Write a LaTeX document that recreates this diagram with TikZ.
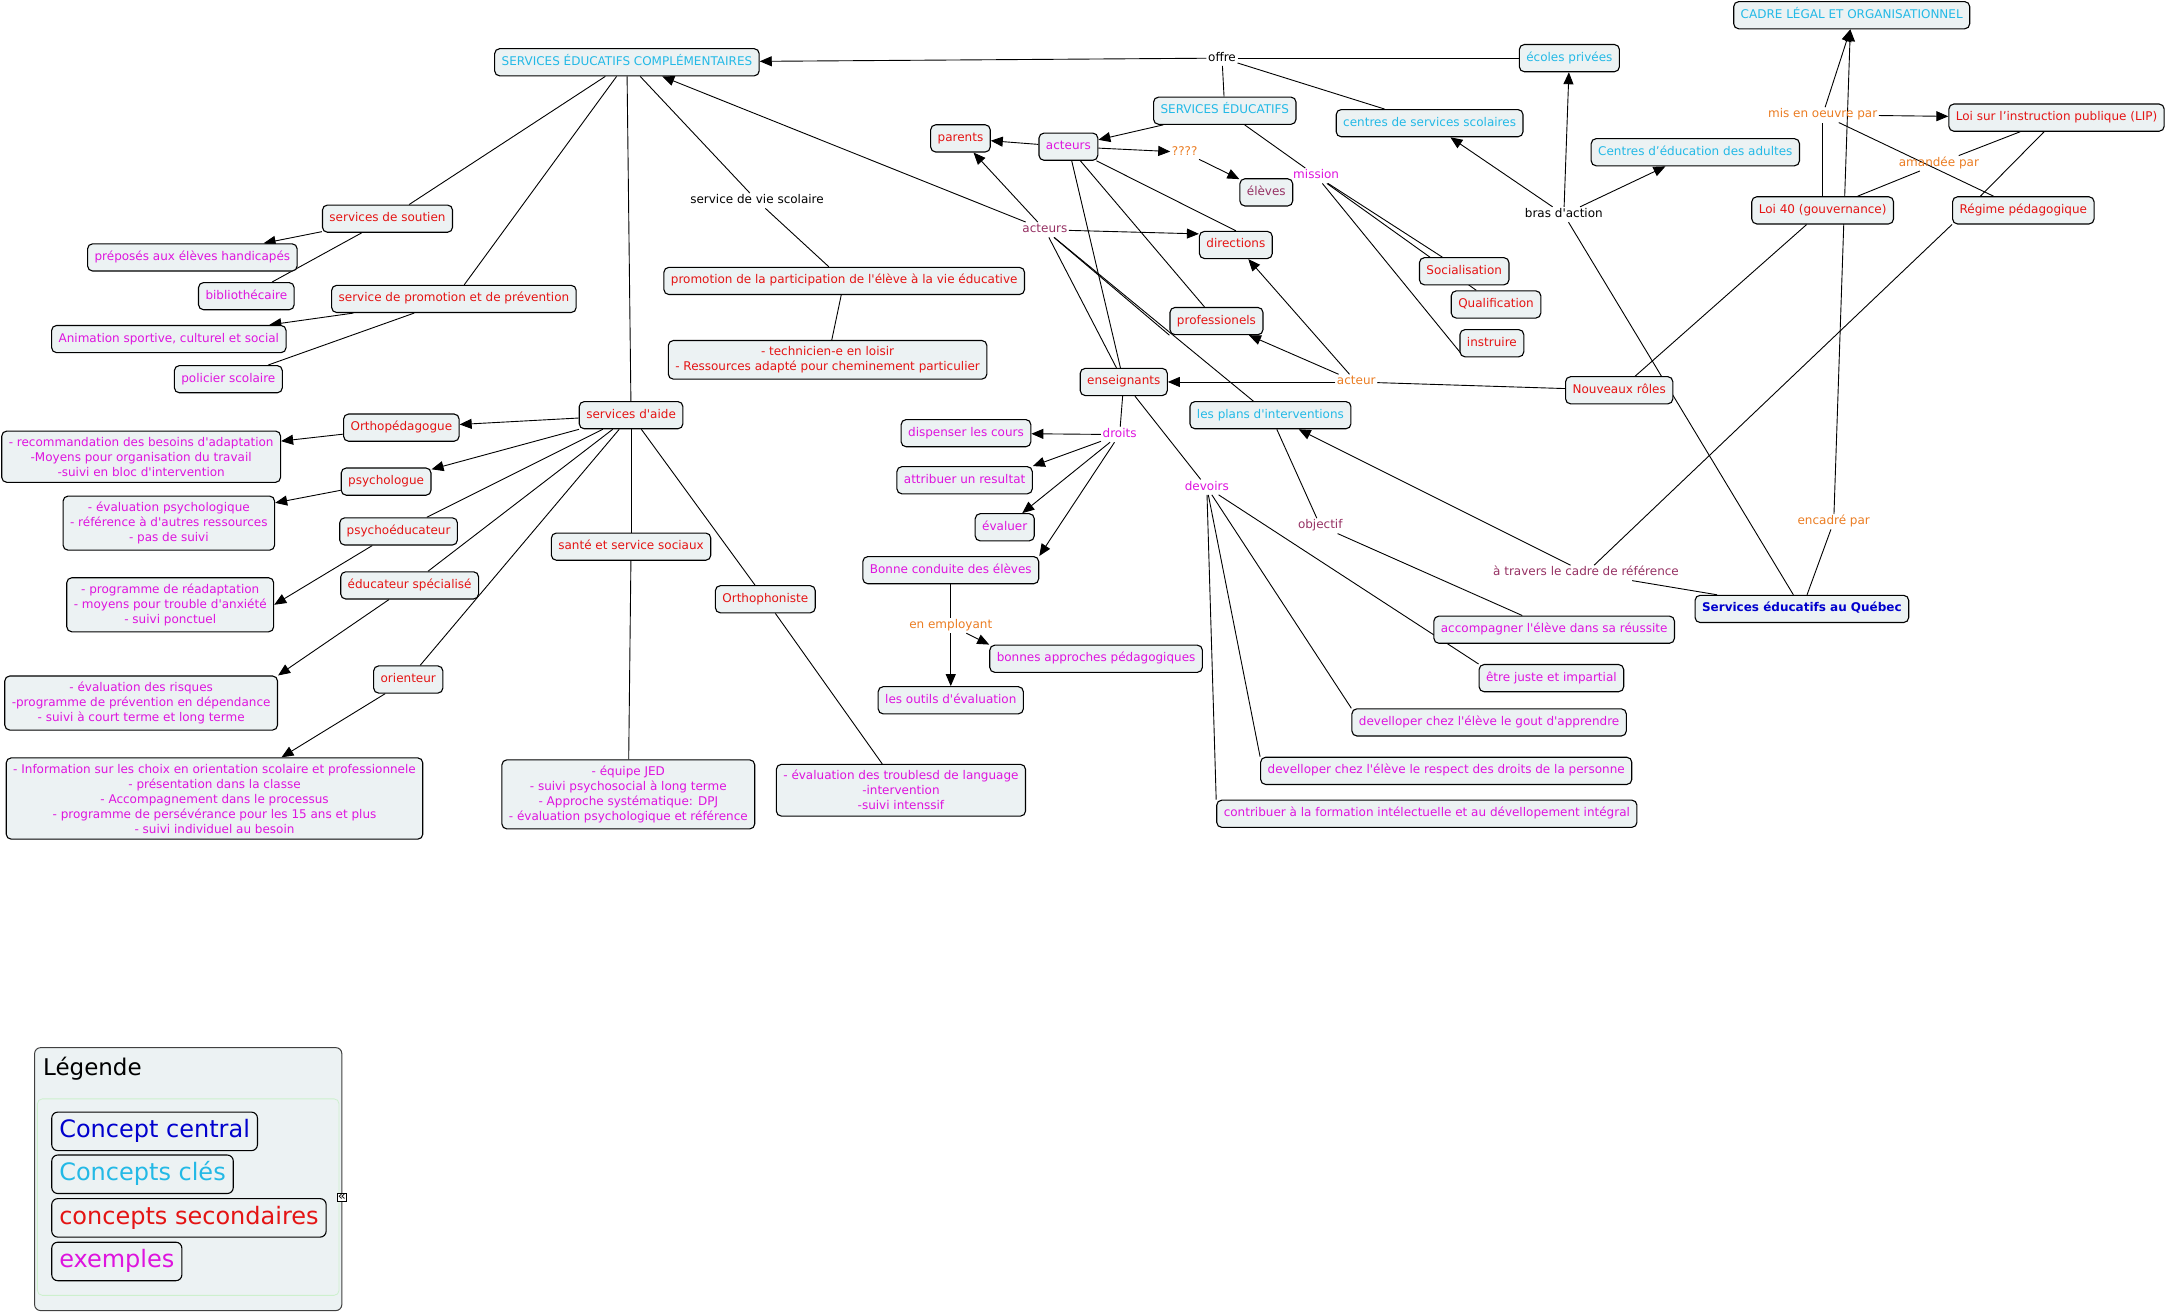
\documentclass[tikz,border=0pt]{standalone}
\usepackage{fontspec}
\newfontfamily\mf{DejaVu Sans}
\usetikzlibrary{arrows.meta,calc}
\pgfdeclarelayer{bgzero}
\pgfdeclarelayer{background}
\pgfsetlayers{bgzero,background,main}
\newcommand\fs{\mf\fontsize{12}{15}\selectfont}
\definecolor{boxfill}{RGB}{236,242,243}
\definecolor{ccyan}{RGB}{35,185,230}
\definecolor{cred}{RGB}{228,20,20}
\definecolor{cmag}{RGB}{222,20,222}
\definecolor{cblue}{RGB}{0,0,205}
\definecolor{corange}{RGB}{235,125,35}
\definecolor{cmauve}{RGB}{150,50,100}
\tikzset{
 cb/.style={draw=black, line width=1.1pt, rounded corners=5pt, fill=boxfill, inner xsep=7pt, inner ysep=7.6pt, font=\fs, text height=9pt, text depth=3pt},
 mb/.style={draw=black, line width=1.1pt, rounded corners=5pt, fill=boxfill, inner xsep=7pt, inner ysep=6pt, font=\fs, align=center},
 ckey/.style={cb, text=ccyan},
 csec/.style={cb, text=cred},
 cex/.style={cb, text=cmag},
 cmex/.style={mb, text=cmag},
 cmsec/.style={mb, text=cred},
 clab/.style={font=\fs, inner sep=1.5pt, text height=9pt, text depth=3pt},
 ln/.style={draw=black, line width=0.9pt},
 ar/.style={ln, -{Triangle[length=12pt,width=10pt]}},
 legitem/.style={draw=black, line width=1.1pt, rounded corners=6pt, fill=boxfill, inner xsep=7.5pt, inner ysep=7.5pt, font=\mf\fontsize{24}{28}\selectfont, text height=18pt, text depth=5.5pt, anchor=west}
}
\begin{document}
\begin{tikzpicture}[x=1.384pt,y=-1.384pt]
\useasboundingbox (0,0) rectangle (1568,949);
\begin{pgfonlayer}{bgzero}
\fill[white] (0,0) rectangle (1568,949);
\end{pgfonlayer}

% ---- concepts
\node[ckey] (SEC) at (453,45) {SERVICES ÉDUCATIFS COMPLÉMENTAIRES};
\node[ckey] (CLO) at (1338,11) {CADRE LÉGAL ET ORGANISATIONNEL};
\node[ckey] (EP) at (1134,42) {écoles privées};
\node[ckey] (SE) at (885,80) {SERVICES ÉDUCATIFS};
\node[ckey] (CSS) at (1033,89) {centres de services scolaires};
\node[ckey] (CEA) at (1225,110) {Centres d’éducation des adultes};
\node[csec] (LIP) at (1486,85) {Loi sur l’instruction publique (LIP)};
\node[csec] (L40) at (1317,152) {Loi 40 (gouvernance)};
\node[csec] (RP) at (1462,152) {Régime pédagogique};
\node[csec] (PAR) at (694,100) {parents};
\node[cex] (ACT) at (772,106) {acteurs};
\node[cb, text=cmauve] (ELV) at (915,139) {élèves};
\node[csec] (DIR) at (893,177) {directions};
\node[csec] (PRO) at (879,232) {professionels};
\node[csec] (SOC) at (1058,196) {Socialisation};
\node[csec] (QUA) at (1081,220) {Qualification};
\node[csec] (INS) at (1078,248) {instruire};
\node[csec] (PPE) at (610,203) {promotion de la participation de l'élève à la vie éducative};
\node[cmsec] (TEC) at (598,260) {- technicien-e en loisir\\- Ressources adapté pour cheminement particulier};
\node[csec] (SOU) at (280,158) {services de soutien};
\node[cex] (PRE) at (139,186) {préposés aux élèves handicapés};
\node[cex] (BIB) at (178,214) {bibliothécaire};
\node[csec] (SPP) at (328,216) {service de promotion et de prévention};
\node[cex] (ANI) at (122,245) {Animation sportive, culturel et social};
\node[cex] (POL) at (165,274) {policier scolaire};
\node[csec] (ENS) at (812,276) {enseignants};
\node[csec] (NR) at (1170,282) {Nouveaux rôles};
\node[ckey] (PLA) at (918,300) {les plans d'interventions};
\node[csec] (AID) at (456,300) {services d'aide};
\node[csec] (ORP) at (290,309) {Orthopédagogue};
\node[cmex] (REC) at (102,330) {- recommandation des besoins d'adaptation\\-Moyens pour organisation du travail\\-suivi en bloc d'intervention};
\node[csec] (PSY) at (279,348) {psychologue};
\node[cmex] (EPS) at (122,378) {- évaluation psychologique\\- référence à d'autres ressources\\- pas de suivi};
\node[csec] (PED) at (288,384) {psychoéducateur};
\node[cmex] (REA) at (123,437) {- programme de réadaptation\\- moyens pour trouble d'anxiété\\- suivi ponctuel};
\node[csec] (EDS) at (296,423) {éducateur spécialisé};
\node[cmex] (RIS) at (102,508) {- évaluation des risques\\-programme de prévention en dépendance\\- suivi à court terme et long terme};
\node[csec] (ORI) at (295,491) {orienteur};
\node[cmex] (INF) at (155,577) {- Information sur les choix en orientation scolaire et professionnele\\- présentation dans la classe\\- Accompagnement dans le processus\\- programme de persévérance pour les 15 ans et plus\\- suivi individuel au besoin};
\node[csec] (SAN) at (456,395) {santé et service sociaux};
\node[cmex] (JED) at (454,574) {- équipe JED\\- suivi psychosocial à long terme\\- Approche systématique: DPJ\\- évaluation psychologique et référence};
\node[csec] (OPH) at (553,433) {Orthophoniste};
\node[cmex] (TRO) at (651,571) {- évaluation des troublesd de language\\-intervention\\-suivi intenssif};
\node[cex] (DIS) at (698,313) {dispenser les cours};
\node[cex] (ATT) at (697,347) {attribuer un resultat};
\node[cex] (EVA) at (726,381) {évaluer};
\node[cex] (BC) at (687,412) {Bonne conduite des élèves};
\node[cex] (BAP) at (792,476) {bonnes approches pédagogiques};
\node[cex] (OUT) at (687,506) {les outils d'évaluation};
\node[cb, text=cblue, font=\fs\bfseries] (SEQ) at (1302,440) {Services éducatifs au Québec};
\node[cex] (ACC) at (1123,455) {accompagner l'élève dans sa réussite};
\node[cex] (EJ) at (1121,490) {être juste et impartial};
\node[cex] (DG) at (1076,522) {develloper chez l'élève le gout d'apprendre};
\node[cex] (DR) at (1045,557) {develloper chez l'élève le respect des droits de la personne};
\node[cex] (CON) at (1031,588) {contribuer à la formation intélectuelle et au dévellopement intégral};

% ---- linking phrases
\node[clab, text=black] (lOFF) at (883,42) {offre};
\node[clab, text=corange] (lQ) at (856,110) {????};
\node[clab, text=cmag] (lMIS) at (951,127) {mission};
\node[clab, text=black] (lBRAS) at (1130,155) {bras d'action};
\node[clab, text=corange] (lMEO) at (1317,83) {mis en oeuvre par};
\node[clab, text=corange] (lAMA) at (1401,118) {amandée par};
\node[clab, text=cmauve] (lACTS) at (755,166) {acteurs};
\node[clab, text=black] (lSVS) at (547,145) {service de vie scolaire};
\node[clab, text=corange] (lACT) at (980,276) {acteur};
\node[clab, text=cmag] (lDRO) at (809,314) {droits};
\node[clab, text=corange] (lEMP) at (687,452) {en employant};
\node[clab, text=cmag] (lDEV) at (872,352) {devoirs};
\node[clab, text=cmauve] (lOBJ) at (954,380) {objectif};
\node[clab, text=cmauve] (lTRA) at (1146,414) {à travers le cadre de référence};
\node[clab, text=corange] (lENC) at (1325,377) {encadré par};
\coordinate (cloin) at ($(CLO.south)+(-1,0)$);

% ---- connectors
\begin{pgfonlayer}{background}
\draw[ln] (EP) -- (lOFF);
\draw[ln] (SE) -- (lOFF);
\draw[ln] (CSS) -- (lOFF);
\draw[ar] (lOFF) -- (SEC);
\draw[ar] (SE) -- (ACT);
\draw[ar] (ACT) -- (PAR);
\draw[ar] (ACT) -- (lQ);
\draw[ar] (lQ) -- (ELV);
\draw[ln] (ACT) -- (DIR.north);
\draw[ln] (ACT) -- (PRO);
\draw[ln] (ACT) -- (ENS);
\draw[ln] (SE) -- (lMIS);
\draw[ln] (lMIS) -- (SOC);
\draw[ln] (lMIS) -- (QUA);
\draw[ln] (lMIS) -- ($(INS.south west)+(1,-3)$);
\draw[ar] (lBRAS) -- (EP);
\draw[ar] (lBRAS) -- (CSS);
\draw[ar] (lBRAS) -- (CEA);
\draw[ln] (SEQ) -- (lBRAS);
\draw[ln] (L40) -- (lMEO);
\draw[ar] (lMEO) -- (cloin);
\draw[ar] (lMEO) -- (LIP);
\draw[ln] (lMEO) -- (RP);
\draw[ln] (LIP) -- (lAMA);
\draw[ln] (lAMA) -- (L40);
\draw[ln] ($(LIP.south)+(-9,0)$) -- ($(RP.north)+(-31,0)$);
\draw[ln] (L40) -- (NR);
\draw[ln] (NR) -- (lACT);
\draw[ar] (lACT) -- (ENS);
\draw[ar] (lACT) -- (PRO);
\draw[ar] (lACT) -- (DIR);
\draw[ar] (lACTS) -- (SEC);
\draw[ar] (lACTS) -- (PAR);
\draw[ar] (lACTS) -- ($(DIR.west)+(0,-8)$);
\draw[ln] (lACTS) -- (ENS);
\draw[ln] (lACTS) -- (PRO.south west);
\draw[ln] (lACTS) -- (PLA);
\draw[ln] (ENS) -- (lDRO);
\draw[ar] (lDRO) -- (DIS);
\draw[ar] (lDRO) -- (ATT.north east);
\draw[ar] (lDRO) -- (EVA);
\draw[ar] (lDRO) -- (BC.north east);
\draw[ln] (BC) -- (lEMP);
\draw[ar] (lEMP) -- (BAP.north west);
\draw[ar] (lEMP) -- (OUT);
\draw[ln] (ENS) -- (lDEV);
\draw[ln] (lDEV) -- (EJ.north west);
\draw[ln] (lDEV) -- (DG.north west);
\draw[ln] (lDEV) -- (DR.north west);
\draw[ln] (lDEV) -- (CON.north west);
\draw[ln] (PLA) -- (lOBJ);
\draw[ln] (lOBJ) -- (ACC);
\draw[ln] (SEQ) -- (lTRA);
\draw[ln] (RP.south west) -- (lTRA);
\draw[ar] (lTRA) -- (PLA);
\draw[ln] (SEQ) -- (lENC);
\draw[ar] (lENC) -- (cloin);
\draw[ln] (SEC) -- (SOU);
\draw[ln] (SEC) -- (SPP);
\draw[ln] (SEC) -- (AID);
\draw[ln] (SEC) -- (lSVS);
\draw[ln] (lSVS) -- (PPE);
\draw[ln] (PPE) -- (TEC);
\draw[ar] (SOU) -- (PRE);
\draw[ln] (SOU) -- (BIB);
\draw[ar] (SPP) -- (ANI);
\draw[ln] (SPP) -- (POL);
\draw[ar] (AID) -- (ORP);
\draw[ar] (ORP) -- (REC);
\draw[ar] (AID) -- (PSY);
\draw[ar] (PSY) -- (EPS);
\draw[ln] (AID) -- (PED);
\draw[ar] ($(PED.south)+(-19,0)$) -- (REA.east);
\draw[ln] (AID) -- (EDS);
\draw[ar] (EDS) -- (RIS.north east);
\draw[ln] (AID) -- (ORI);
\draw[ar] (ORI) -- (INF);
\draw[ln] (AID) -- (SAN);
\draw[ln] (SAN) -- (JED);
\draw[ln] (AID) -- (OPH);
\draw[ln] (OPH) -- (TRO);
\end{pgfonlayer}

% ---- legend
\draw[draw=black!75, line width=1pt, rounded corners=6pt, fill=boxfill] (25,757) rectangle (247,947);
\draw[draw={rgb,255:red,205;green,240;blue,205}, line width=0.8pt, rounded corners=5pt] (27,794) rectangle (245,936);
\node[anchor=base west, inner sep=0pt, font=\mf\fontsize{23}{27}\selectfont] (legT) at (31,777) {Légende};
\node[legitem, text=cblue] (lg1) at (37,817.5) {Concept central};
\node[legitem, text=ccyan] (lg2) at (37,848.5) {Concepts clés};
\node[legitem, text=cred] (lg3) at (37,880) {concepts secondaires};
\node[legitem, text=cmag] (lg4) at (37,911.5) {exemples};
\node[draw=black, fill=white, line width=0.7pt, inner xsep=1pt, inner ysep=0.5pt, font=\mf\fontsize{13}{13}\selectfont] (icon) at (247,865) {«};
\end{tikzpicture}
\end{document}
